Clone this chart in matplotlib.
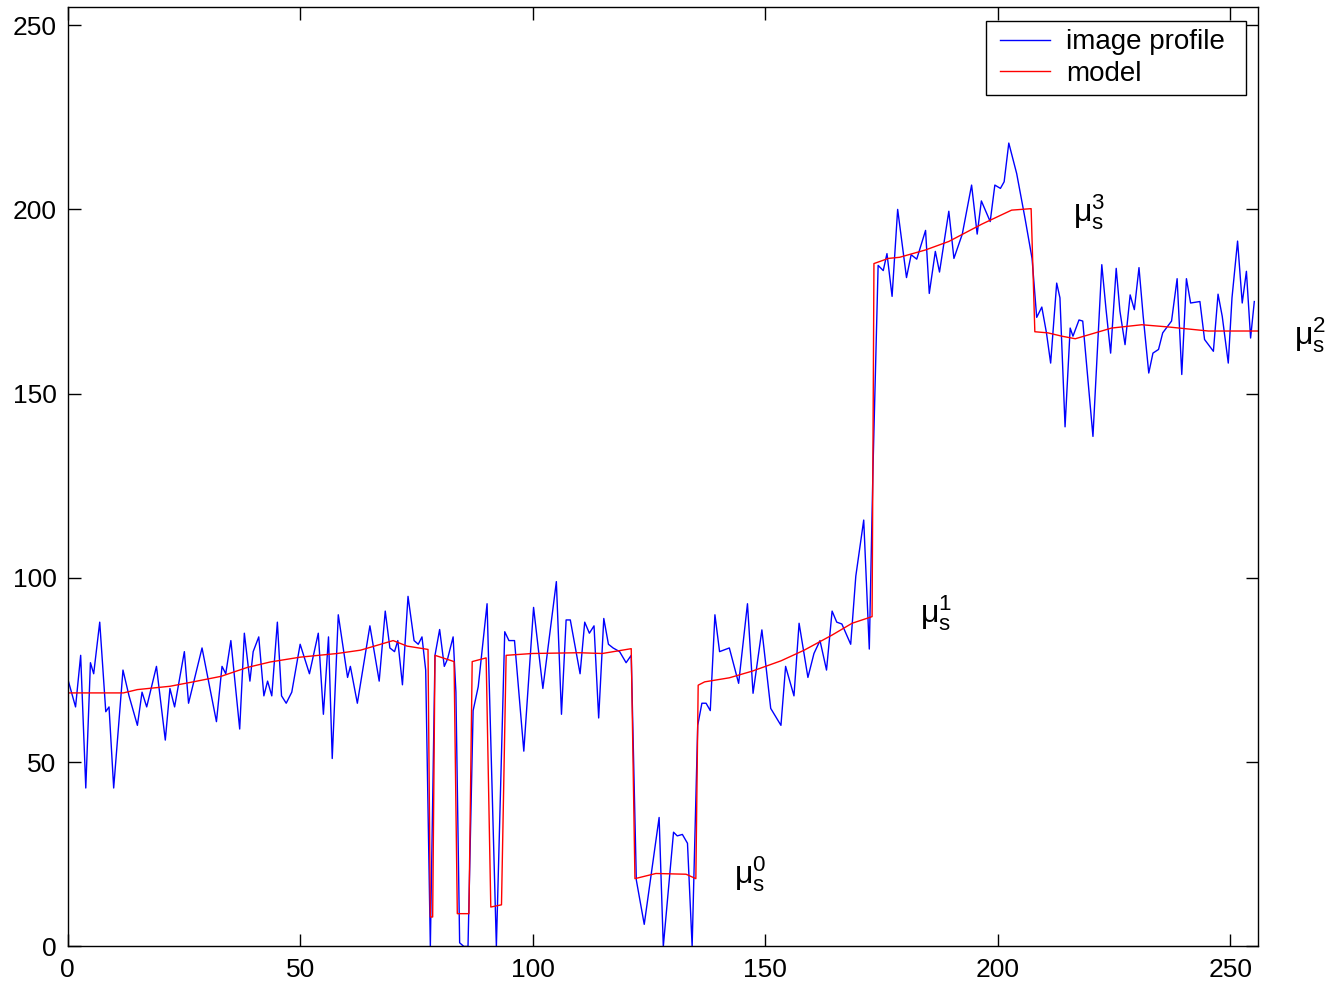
import matplotlib
matplotlib.use("Agg")
import matplotlib.pyplot as plt
from matplotlib.legend_handler import HandlerLine2D

plt.rcParams['font.family'] = ['Liberation Sans', 'DejaVu Sans']
plt.rcParams['mathtext.fontset'] = 'custom'
plt.rcParams['mathtext.rm'] = 'Liberation Sans'
plt.rcParams['mathtext.it'] = 'Liberation Sans'

# image profile (x, grey value)
profile_x = [0, 1.7, 2.8, 3.9, 4.9, 5.6, 6.9, 8.2, 8.9, 9.9, 11.9, 13.2, 15, 16, 17,
             19.1, 21, 22, 23, 25.1, 26, 28.9, 32, 33.2, 34, 35.1, 37, 38, 39.2, 39.9,
             41.1, 42.2, 43, 43.9, 45.1, 46, 47, 48.2, 50, 52, 53.9, 55, 56.1, 56.9,
             58.2, 60.2, 60.8, 62.3, 65, 67, 68.3, 69.3, 70.3, 71, 72, 73.2, 74.5,
             75.4, 76.2, 77, 78, 79, 80, 81, 81.7, 82.9, 83.5, 84.3, 85.2, 86.1, 87.2,
             88.3, 90.2, 92.2, 94, 94.9, 96.1, 98.1, 100.2, 102.2, 105.1, 106.2, 107.2,
             108.1, 110.2, 111.2, 112.2, 113.2, 114.2, 115.3, 116.3, 117.3, 118.7,
             120.1, 121.2, 122.3, 124, 127.2, 128.1, 130.3, 131.1, 132.2, 133.3, 134.3,
             135.5, 136.4, 137.3, 138.2, 139.2, 140.2, 142.3, 144.3, 146.2, 147.4,
             149.3, 151.2, 153.4, 154.4, 156.2, 157.3, 159.2, 160.5, 161.8, 163.2,
             164.4, 165.4, 166.5, 168.4, 169.5, 171.2, 172.4, 173.2, 174.3, 175.4,
             176.2, 177.3, 178.5, 180.4, 181.4, 182.6, 184.5, 185.3, 186.6, 187.5,
             189.5, 190.6, 192.4, 194.4, 195.6, 196.5, 198.4, 199.4, 200.6, 201.4,
             202.4, 204.1, 205.9, 207.4, 208.4, 209.5, 210.5, 211.4, 212.7, 213.4,
             214.5, 215.6, 216.2, 217.5, 218.3, 220.5, 222.4, 223.3, 224.3, 225.5,
             226.3, 227.4, 228.5, 229.4, 230.4, 231.3, 232.5, 233.4, 234.6, 235.5,
             237.4, 238.6, 239.6, 240.6, 241.5, 243.5, 244.5, 246.4, 247.4, 248.3,
             249.6, 250.4, 251.6, 252.6, 253.5, 254.4, 255.2]
profile_v = [72.7, 65, 79, 43, 77, 74, 88, 63.7, 65, 43, 75, 68, 60, 69, 65,
             76, 56, 70, 65, 80, 66, 81, 61, 76, 74, 83, 59, 85, 72, 80,
             84, 68, 72, 68, 88, 68, 66, 69, 82, 74, 85, 63, 84, 51,
             90, 73, 76, 66, 87, 72, 91, 81, 80, 83, 71, 95, 83,
             82, 84, 75, 0, 79, 86, 76, 78, 84, 69, 1, 0, 0, 64,
             70.5, 93, 0, 85.4, 83, 83, 53, 92, 70, 99, 63, 88.6,
             88.6, 74, 88, 85, 87, 62, 89, 82, 81, 80,
             77, 79, 18, 6, 35, 0, 31, 30, 30.4, 28, 0,
             60, 66, 66, 64, 90, 80, 81, 71.4, 93, 68.7,
             85.9, 64.6, 60, 76, 68, 87.7, 73, 79.5, 83, 75,
             91, 88, 87.5, 82, 100.5, 115.7, 80.7, 130, 184.8, 183.4,
             188, 176.4, 200, 181.5, 187.7, 186.5, 194.3, 177.2, 188.6, 183,
             199.5, 186.7, 193.3, 206.6, 193.3, 202.3, 196.7, 206.6, 205.7, 207.5,
             218, 209.7, 197.5, 186.7, 170.7, 173.5, 166.5, 158.3, 180, 176,
             141, 167.8, 165.6, 170, 169.7, 138.4, 185, 173, 161, 184,
             172.4, 163.3, 176.8, 172.8, 184.2, 171, 155.6, 161, 162, 166.5,
             169.7, 181.2, 155.2, 181.2, 174.6, 175, 164.7, 161.5, 177, 171,
             158.3, 176, 191.4, 174.6, 183.2, 165.1, 175]

# fitted model (x, value)
model_x = [0, 12, 15, 22, 27, 33, 38.6, 43.6, 50, 58, 63, 70, 73, 77.5, 78, 78.5,
           79, 83.1, 83.8, 86.3, 87, 90, 91, 93.3, 94.3, 100, 110, 115, 121.2, 122,
           126.5, 133, 135.1, 135.6, 137, 142.3, 147.2, 153.4, 158.4, 164.4, 168.7,
           173, 173.4, 176.5, 178.9, 184.5, 189.5, 196.6, 203, 207.2, 208, 210.8,
           213.8, 216.7, 221, 224.5, 231, 236.7, 245.3, 256]
model_v = [68.8, 68.8, 69.7, 70.6, 71.8, 73.3, 75.7, 77.2, 78.5, 79.5, 80.4, 83, 81.5,
           80.6, 8, 8, 79, 77.3, 8.9, 8.9, 77.3, 78.3, 10.7, 11.3, 79, 79.5, 79.7,
           79.5, 80.8, 18.4, 19.8, 19.6, 18.4, 70.9, 71.8, 72.9, 74.7, 77.5, 80.4,
           84.5, 87.7, 89.5, 185.3, 186.7, 187, 189, 191.3, 196, 199.8, 200.2, 166.8,
           166.5, 165.6, 164.9, 166.5, 167.8, 168.7, 168.1, 167, 167]

x_ticks = [0, 50, 100, 150, 200, 250]
y_ticks = [0, 50, 100, 150, 200, 250]

labels = [r'$\mathregular{\mu_s^0}$', r'$\mathregular{\mu_s^1}$',
          r'$\mathregular{\mu_s^3}$', r'$\mathregular{\mu_s^2}$']
label_x = [143.3, 183.4, 216.3, 263.7]
label_y = [19.5, 90.5, 199.4, 166.0]


class InsetLineHandler(HandlerLine2D):
    """Legend line that starts a little right of the handle box."""
    def get_xdata(self, legend, xdescent, ydescent, width, height, fontsize):
        return [-xdescent + 4.3, -xdescent + width], [-xdescent + 4.3, -xdescent + width]


fig = plt.figure(figsize=(13.29, 9.86), dpi=100)
ax = fig.add_axes([0.0509, 0.0401, 0.8957, 0.9531])

l1, = ax.plot(profile_x, profile_v, color=(0, 0, 1), lw=1.0, label='image profile')
l2, = ax.plot(model_x, model_v, color=(1, 0, 0), lw=1.0, label='model')

ax.set_xlim(0, 256)
ax.set_ylim(0, 255)
ax.set_xticks(x_ticks)
ax.set_yticks(y_ticks)
ax.tick_params(direction='in', length=9, width=1, top=True, right=True,
               labelsize=19, pad=8)
for s in ax.spines.values():
    s.set_linewidth(1.0)

for t, xx, yy in zip(labels, label_x, label_y):
    ax.text(xx, yy, t, fontsize=23, ha='left', va='center', clip_on=False)

leg = ax.legend(loc='upper left', bbox_to_anchor=(0.7715, 0.9, 0.2184, 0.0848),
                mode='expand', borderaxespad=0,
                fontsize=20, fancybox=False, framealpha=1, edgecolor='black',
                handlelength=2.0, handletextpad=0.58, labelspacing=0.2,
                borderpad=0.3,
                handler_map={l1: InsetLineHandler(), l2: InsetLineHandler()})
leg.get_frame().set_linewidth(1.0)

fig.savefig('out.png', dpi=100)
